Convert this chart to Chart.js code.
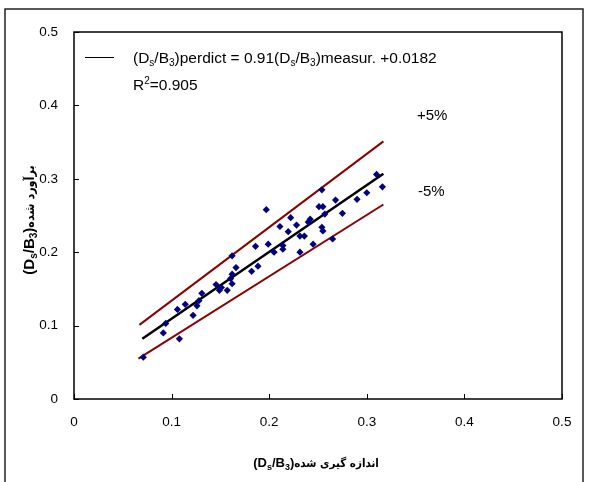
<!DOCTYPE html>
<html>
<head>
<meta charset="utf-8">
<script src="https://cdn.jsdelivr.net/npm/chart.js@4.4.1/dist/chart.umd.min.js"></script>
<style>
  html, body { margin: 0; padding: 0; background: #fff; }
  #wrap { width: 589px; height: 482px; }
</style>
</head>
<body>
<div id="wrap"><canvas id="chart" width="589" height="482"></canvas></div>
<script>
// measured vs predicted Ds/B3
const measured = [0.071, 0.0915, 0.094, 0.108, 0.106, 0.114, 0.122, 0.126, 0.128, 0.131,
    0.1455, 0.149, 0.151, 0.157, 0.1605, 0.162, 0.162, 0.166, 0.162, 0.182,
    0.1885, 0.186, 0.197, 0.199, 0.205, 0.211, 0.214, 0.214, 0.2195, 0.222,
    0.228, 0.2315, 0.2315, 0.236, 0.240, 0.242, 0.245, 0.251, 0.254, 0.255,
    0.257, 0.254, 0.255, 0.268, 0.265, 0.275, 0.29, 0.30, 0.31, 0.316];
const predicted = [0.057, 0.090, 0.103, 0.082, 0.122, 0.129, 0.114, 0.127, 0.134, 0.144,
    0.156, 0.148, 0.152, 0.148, 0.164, 0.170, 0.157, 0.179, 0.195, 0.174,
    0.181, 0.208, 0.258, 0.211, 0.200, 0.235, 0.204, 0.209, 0.228, 0.247,
    0.237, 0.222, 0.200, 0.222, 0.241, 0.245, 0.211, 0.262, 0.285, 0.262,
    0.252, 0.234, 0.229, 0.271, 0.218, 0.253, 0.272, 0.281, 0.306, 0.289];

// regression line and +/-5% band end points
const fitX = [0.07, 0.317];
const fitY = [0.082, 0.307];
const upperX = [0.067, 0.317];
const upperY = [0.101, 0.351];
const lowerX = [0.066, 0.317];
const lowerY = [0.055, 0.265];

const tickLabels = ['0', '0.1', '0.2', '0.3', '0.4', '0.5'];

const LATIN = '"Liberation Sans", Arial, sans-serif';
const PERSIAN = '"DejaVu Sans Condensed", "DejaVu Sans", sans-serif';

let toPoints = (xs, ys) => xs.map((x, i) => ({ x: x, y: ys[i] }));

// draws a row of text pieces (for subscripts / mixed fonts)
let drawRuns = (ctx, runs, x, y, align) => {
    let total = 0;
    runs.forEach(r => { ctx.font = r.font; total += ctx.measureText(r.t).width; });
    let cx = align === 'center' ? x - total / 2 : x;
    ctx.textBaseline = 'alphabetic';
    ctx.textAlign = 'left';
    runs.forEach(r => {
        ctx.font = r.font;
        ctx.fillText(r.t, cx, y + (r.dy || 0));
        cx += ctx.measureText(r.t).width;
    });
};

const extras = {
    id: 'extras',
    afterDraw(chart) {
        const ctx = chart.ctx;
        const a = chart.chartArea;
        const xs = chart.scales.x, ys = chart.scales.y;
        ctx.save();
        ctx.fillStyle = '#000';
        ctx.strokeStyle = '#000';

        // plot frame
        ctx.lineWidth = 1.5;
        ctx.strokeRect(a.left, a.top, a.right - a.left, a.bottom - a.top);

        // inward ticks
        ctx.lineWidth = 1;
        ctx.beginPath();
        xs.ticks.forEach(t => {
            const px = Math.round(xs.getPixelForValue(t.value)) + 0.5;
            ctx.moveTo(px, a.bottom);
            ctx.lineTo(px, a.bottom - 5);
        });
        ys.ticks.forEach(t => {
            const py = Math.round(ys.getPixelForValue(t.value)) + 0.5;
            ctx.moveTo(a.left, py);
            ctx.lineTo(a.left + 5, py);
        });
        ctx.stroke();

        // legend
        ctx.lineWidth = 1;
        ctx.beginPath();
        ctx.moveTo(85, 57.5);
        ctx.lineTo(114, 57.5);
        ctx.stroke();
        const f = '15.5px ' + LATIN, s = '10px ' + LATIN;
        drawRuns(ctx, [
            { t: '(D', font: f }, { t: 's', font: s, dy: 3 }, { t: '/B', font: f }, { t: '3', font: s, dy: 3 },
            { t: ')perdict = 0.91(D', font: f }, { t: 's', font: s, dy: 3 }, { t: '/B', font: f }, { t: '3', font: s, dy: 3 },
            { t: ')measur. +0.0182', font: f }
        ], 133, 63, 'left');
        drawRuns(ctx, [
            { t: 'R', font: f }, { t: '2', font: s, dy: -6 }, { t: '=0.905', font: f }
        ], 133, 90, 'left');

        // band labels
        ctx.font = '15px ' + LATIN;
        ctx.textAlign = 'left';
        ctx.fillText('+5%', 417, 120);
        ctx.fillText('-5%', 418, 196);

        // axis titles
        const bf = 'bold 13px ' + LATIN, bs = 'bold 9px ' + LATIN;
        drawRuns(ctx, [
            { t: '(D', font: bf }, { t: 's', font: bs, dy: 3 }, { t: '/B', font: bf }, { t: '3', font: bs, dy: 3 },
            { t: ')', font: bf }, { t: 'اندازه گیری شده', font: 'bold 11.5px ' + PERSIAN }
        ], 316, 467, 'center');

        const yf = 'bold 15px ' + LATIN, ysub = 'bold 10px ' + LATIN;
        ctx.translate(34, 220);
        ctx.rotate(-Math.PI / 2);
        drawRuns(ctx, [
            { t: '(D', font: yf }, { t: 's', font: ysub, dy: 3 }, { t: '/B', font: yf }, { t: '3', font: ysub, dy: 3 },
            { t: ')', font: yf }, { t: 'برآورد شده', font: 'bold 12.5px ' + PERSIAN }
        ], 0, 0, 'center');
        ctx.restore();

        // outer border
        ctx.save();
        ctx.strokeStyle = '#222';
        ctx.lineWidth = 1.5;
        ctx.strokeRect(5, 9, 578, 480);
        ctx.restore();
    }
};

new Chart(document.getElementById('chart'), {
    type: 'scatter',
    data: {
        datasets: [
            {
                label: 'measured',
                data: toPoints(measured, predicted),
                pointStyle: 'rectRot',
                pointRadius: 3.6,
                backgroundColor: '#000080',
                borderColor: '#000080',
                borderWidth: 0,
                order: 0
            },
            {
                type: 'line', label: 'fit', data: toPoints(fitX, fitY),
                borderColor: '#000', borderWidth: 2.5, pointRadius: 0, order: 1
            },
            {
                type: 'line', label: '+5%', data: toPoints(upperX, upperY),
                borderColor: '#8b0000', borderWidth: 2, pointRadius: 0, order: 2
            },
            {
                type: 'line', label: '-5%', data: toPoints(lowerX, lowerY),
                borderColor: '#8b0000', borderWidth: 2, pointRadius: 0, order: 2
            }
        ]
    },
    options: {
        responsive: false,
        animation: false,
        layout: { padding: { left: 0, top: 32, right: 27, bottom: 0 } },
        plugins: {
            legend: { display: false },
            tooltip: { enabled: false }
        },
        scales: {
            x: {
                type: 'linear', min: 0, max: 0.5,
                grid: { display: false },
                border: { display: false },
                ticks: {
                    stepSize: 0.1, padding: 7, color: '#000',
                    font: { family: LATIN, size: 13.5 },
                    maxRotation: 0,
                    callback: (v, i) => tickLabels[i]
                },
                afterFit: s => { s.height = 83; }
            },
            y: {
                type: 'linear', min: 0, max: 0.5,
                grid: { display: false },
                border: { display: false },
                ticks: {
                    stepSize: 0.1, padding: 8, color: '#000',
                    font: { family: LATIN, size: 13.5 },
                    callback: (v, i) => tickLabels[i]
                },
                afterFit: s => { s.width = 74; }
            }
        }
    },
    plugins: [extras]
});
</script>
</body>
</html>
